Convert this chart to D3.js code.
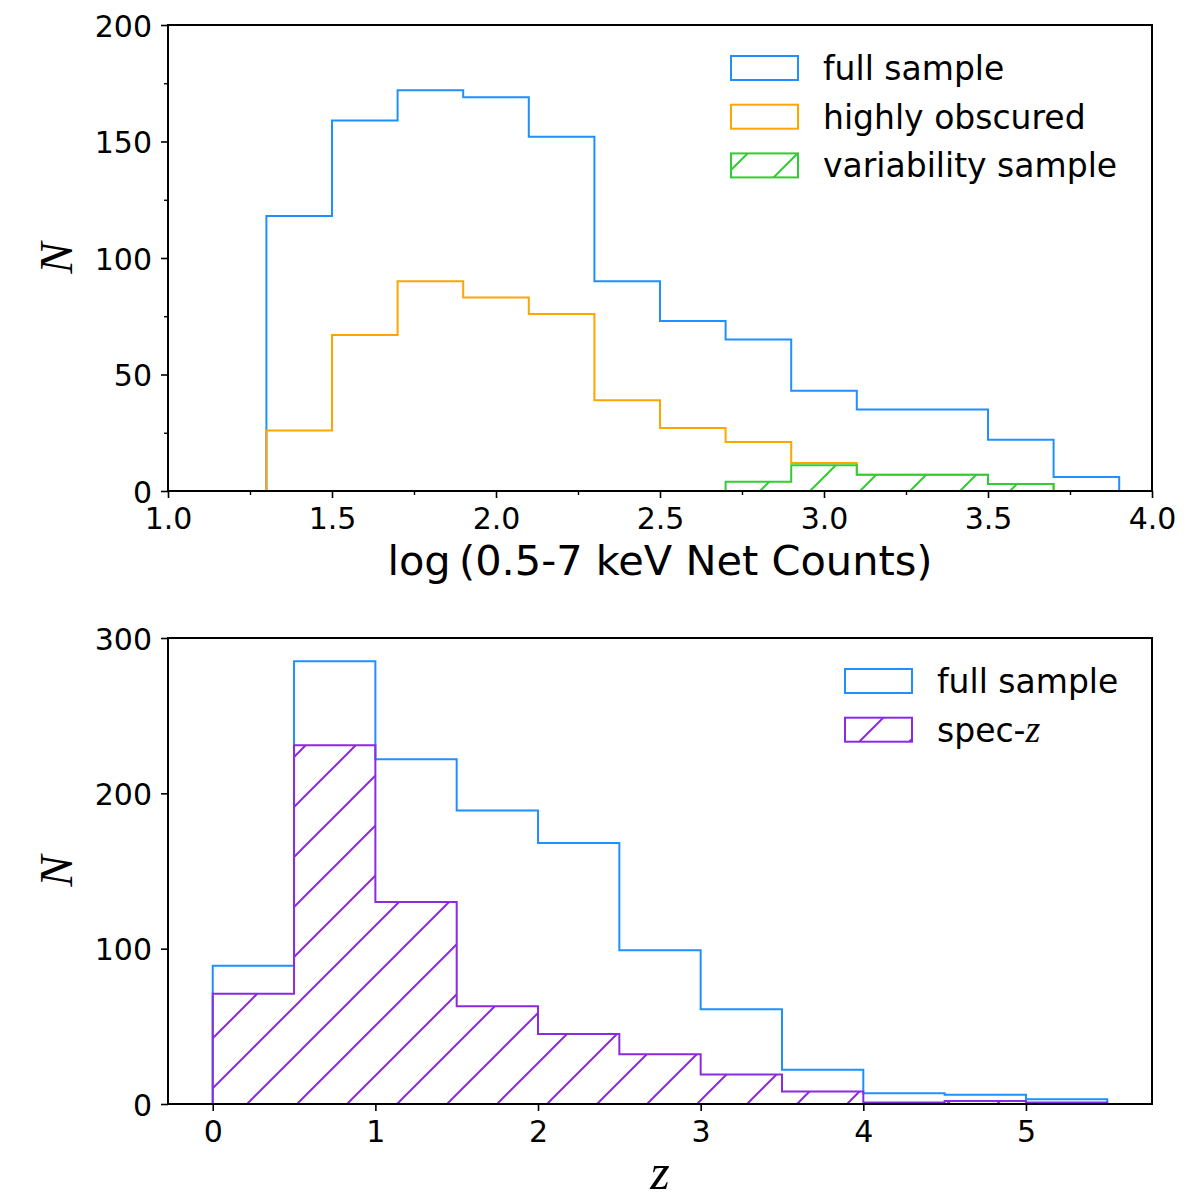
<!DOCTYPE html>
<html>
<head>
<meta charset="utf-8">
<script src="https://cdn.jsdelivr.net/npm/d3@7"></script>
<style>
  body { margin: 0; background: #fff; }
</style>
</head>
<body>
<svg id="chart"></svg>
<script>
// top panel: net counts
var countEdges = [1.3, 1.5, 1.7, 1.9, 2.1, 2.3, 2.5, 2.7, 2.9, 3.1, 3.3, 3.5, 3.7, 3.9];
var fullCounts = [118, 159, 172, 169, 152, 90, 73, 65, 43, 35, 35, 22, 6];
var obscuredCounts = [26, 67, 90, 83, 76, 39, 27, 21, 12, 7, 7, 3, 0];
var variabilityCounts = [0, 0, 0, 0, 0, 0, 0, 4, 11, 7, 7, 3, 0];
var countTicks = [1.0, 1.5, 2.0, 2.5, 3.0, 3.5, 4.0];
var countMinorTicks = [1.25, 1.75, 2.25, 2.75, 3.25, 3.75];
var countNTicks = [0, 50, 100, 150, 200];
var countNMinorTicks = [25, 75, 125, 175];
var countLegend = ["full sample", "highly obscured", "variability sample"];

// bottom panel: redshift
var zEdges = [0, 0.5, 1, 1.5, 2, 2.5, 3, 3.5, 4, 4.5, 5, 5.5];
var fullZ = [89, 285, 222, 189, 168, 99, 61, 22, 7, 6, 3];
var specZ = [71, 231, 130, 63, 45, 32, 19, 8, 1, 2, 1];
var zTicks = [0, 1, 2, 3, 4, 5];
var zNTicks = [0, 100, 200, 300];
var zLegend = ["full sample", "spec-"];

var BLUE = "#1E90FF", ORANGE = "#FFA500", GREEN = "#32CD32", PURPLE = "#8A2BE2";

var svg = d3.select("#chart")
    .attr("width", 1200)
    .attr("height", 1200);

svg.append("rect")
    .attr("width", "100%")
    .attr("height", "100%")
    .attr("fill", "white");

var defs = svg.append("defs");

function makeHatch(id, color) {
    var p = defs.append("pattern")
        .attr("id", id)
        .attr("patternUnits", "userSpaceOnUse")
        .attr("width", 50)
        .attr("height", 50)
        .attr("patternTransform", "translate(1,0)");
    p.append("path")
        .attr("d", "M-5,5L5,-5M0,50L50,0M45,55L55,45")
        .attr("stroke", color)
        .attr("stroke-width", 2)
        .attr("fill", "none");
}
makeHatch("hatch-green", GREEN);
makeHatch("hatch-purple", PURPLE);

function stepPoints(edges, counts) {
    var pts = [[edges[0], 0]];
    counts.forEach(function (c, i) {
        pts.push([edges[i], c]);
        pts.push([edges[i + 1], c]);
    });
    pts.push([edges[edges.length - 1], 0]);
    return pts;
}

function drawPanel(cfg) {
    var left = 168, right = 1152, top = cfg.top, bottom = cfg.top + 466;

    var x = d3.scaleLinear().domain(cfg.xDomain).range([left, right]);
    var y = d3.scaleLinear().domain(cfg.yDomain).range([bottom, top]);

    defs.append("clipPath")
        .attr("id", cfg.id + "-clip")
        .append("rect")
        .attr("x", left).attr("y", top)
        .attr("width", right - left).attr("height", bottom - top);

    var g = svg.append("g").attr("clip-path", "url(#" + cfg.id + "-clip)");

    var line = d3.line()
        .x(function (d) { return x(d[0]); })
        .y(function (d) { return y(d[1]); });

    cfg.series.forEach(function (s) {
        g.append("path")
            .datum(stepPoints(cfg.edges, s.values))
            .attr("d", line)
            .attr("fill", s.hatch ? "url(#" + s.hatch + ")" : "none")
            .attr("stroke", s.color)
            .attr("stroke-width", 2)
            .attr("stroke-linejoin", "miter");
    });

    // ticks
    var xAxis = svg.append("g")
        .attr("transform", "translate(0," + bottom + ")")
        .call(d3.axisBottom(x).tickValues(cfg.xTicks).tickFormat(cfg.xFormat)
            .tickSize(7).tickSizeOuter(0).tickPadding(10));
    var yAxis = svg.append("g")
        .attr("transform", "translate(" + left + ",0)")
        .call(d3.axisLeft(y).tickValues(cfg.yTicks).tickFormat(d3.format("d"))
            .tickSize(7).tickSizeOuter(0).tickPadding(9));
    if (cfg.xMinor) {
        svg.append("g")
            .attr("transform", "translate(0," + bottom + ")")
            .call(d3.axisBottom(x).tickValues(cfg.xMinor).tickFormat("").tickSize(4).tickSizeOuter(0))
            .call(function (a) { a.select(".domain").remove(); a.selectAll("line").attr("stroke-width", 1.4); });
    }
    if (cfg.yMinor) {
        svg.append("g")
            .attr("transform", "translate(" + left + ",0)")
            .call(d3.axisLeft(y).tickValues(cfg.yMinor).tickFormat("").tickSize(4).tickSizeOuter(0))
            .call(function (a) { a.select(".domain").remove(); a.selectAll("line").attr("stroke-width", 1.4); });
    }
    [xAxis, yAxis].forEach(function (a) {
        a.select(".domain").remove();
        a.selectAll("line").attr("stroke", "#000").attr("stroke-width", 1.6);
        a.selectAll("text")
            .attr("font-family", "DejaVu Sans")
            .attr("font-size", 30)
            .attr("fill", "#000");
    });
    yAxis.selectAll("text").attr("dy", "0.37em");

    // frame
    svg.append("rect")
        .attr("x", left).attr("y", top)
        .attr("width", right - left).attr("height", bottom - top)
        .attr("fill", "none")
        .attr("stroke", "#000")
        .attr("stroke-width", 2);

    // y label
    svg.append("text")
        .attr("transform", "translate(72," + (top + bottom) / 2 + ") rotate(-90)")
        .attr("text-anchor", "middle")
        .attr("font-family", "Liberation Serif")
        .attr("font-style", "italic")
        .attr("font-size", 47)
        .text("N");

    // legend
    var lg = svg.append("g");
    cfg.legend.forEach(function (name, i) {
        var s = cfg.series[i];
        var ry = cfg.legendTop + i * 48.7;
        lg.append("rect")
            .attr("x", cfg.legendX).attr("y", ry)
            .attr("width", 67).attr("height", 24)
            .attr("fill", s.hatch ? "url(#" + s.hatch + ")" : "none")
            .attr("stroke", s.color)
            .attr("stroke-width", 2);
        var t = lg.append("text")
            .attr("x", cfg.legendX + 92).attr("y", ry + 24)
            .attr("font-family", "DejaVu Sans")
            .attr("font-size", 33)
            .text(name);
        if (cfg.legendItalic && i === cfg.legend.length - 1) {
            t.append("tspan")
                .attr("font-family", "Liberation Serif")
                .attr("font-style", "italic")
                .attr("font-size", 38)
                .text(cfg.legendItalic);
        }
    });

    return { x: x, y: y, top: top, bottom: bottom };
}

var p1 = drawPanel({
    id: "counts",
    top: 25,
    xDomain: [1.0, 4.0],
    yDomain: [0, 200],
    edges: countEdges,
    series: [
        { values: fullCounts, color: BLUE },
        { values: obscuredCounts, color: ORANGE },
        { values: variabilityCounts, color: GREEN, hatch: "hatch-green" }
    ],
    xTicks: countTicks,
    xMinor: countMinorTicks,
    xFormat: d3.format(".1f"),
    yTicks: countNTicks,
    yMinor: countNMinorTicks,
    legend: countLegend,
    legendX: 731,
    legendTop: 56
});

svg.append("text")
    .attr("x", 660).attr("y", 575)
    .attr("text-anchor", "middle")
    .attr("font-family", "DejaVu Sans")
    .attr("font-size", 41.5)
    .text("log\u2009(0.5-7 keV Net Counts)");

var p2 = drawPanel({
    id: "z",
    top: 638,
    xDomain: [-0.275, 5.775],
    yDomain: [0, 300],
    edges: zEdges,
    series: [
        { values: fullZ, color: BLUE },
        { values: specZ, color: PURPLE, hatch: "hatch-purple" }
    ],
    xTicks: zTicks,
    xFormat: d3.format("d"),
    yTicks: zNTicks,
    legend: zLegend,
    legendItalic: "z",
    legendX: 845,
    legendTop: 669
});

svg.append("text")
    .attr("x", 660).attr("y", 1189)
    .attr("text-anchor", "middle")
    .attr("font-family", "Liberation Serif")
    .attr("font-style", "italic")
    .attr("font-size", 50)
    .text("z");
</script>
</body>
</html>
